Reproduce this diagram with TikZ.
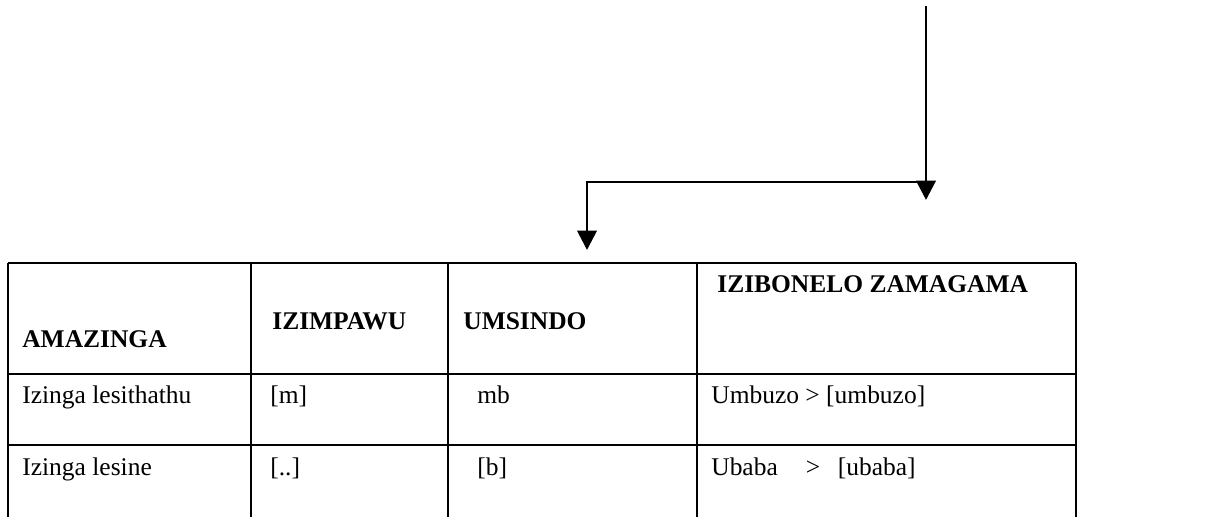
\documentclass[tikz,border=0pt]{standalone}
\usepackage{fontspec}
\setmainfont{Liberation Serif}
\usetikzlibrary{arrows.meta,positioning}
\tikzset{%
	grid/.style  = {line width=0.9pt},
	arrow/.style = {line width=1.6pt,-{Triangle[width=11pt,length=11pt]}},
	head/.style  = {anchor=base west, inner sep=0pt, font=\fontsize{14.5}{17}\selectfont\bfseries},
	entry/.style = {anchor=base west, inner sep=0pt, font=\fontsize{14.5}{17}\selectfont},
}
\begin{document}
\begin{tikzpicture}[x=0.02cm,y=-0.02cm]
	\useasboundingbox (0,0) rectangle (1209,517);
	% table rules
	\draw[grid] (8,263) -- (1076,263);
	\draw[grid] (8,374) -- (1076,374);
	\draw[grid] (8,445) -- (1076,445);
	\foreach \x in {8,251,448,697,1076} \draw[grid] (\x,263) -- (\x,517);
	% headings
	\node[head] (amazinga) at (22,347) {AMAZINGA};
	\node[head] (izimpawu) at (272,329) {IZIMPAWU};
	\node[head] (umsindo) at (463,329) {UMSINDO};
	\node[head] (izibonelo) at (717,292) {IZIBONELO ZAMAGAMA};
	% first row
	\node[entry] (level3) at (22,403) {Izinga lesithathu};
	\node[entry] (sign3) at (270,403) {[m]};
	\node[entry] (sound3) at (477,403) {mb};
	\node[entry] (word3) at (711,403) {Umbuzo > [umbuzo]};
	% second row
	\node[entry] (level4) at (22,475) {Izinga lesine};
	\node[entry] (sign4) at (270,475) {[..]};
	\node[entry] (sound4) at (477,475) {[b]};
	\node[entry] (word4) at (711,475) {Ubaba\hspace{16pt}>\hspace{10pt}[ubaba]};
	% arrows
	\coordinate (src) at (926,6);
	\coordinate (drop) at (926,200);
	\coordinate (fork) at (926,182);
	\coordinate (into) at (587,250);
	\draw[arrow] (src) -- (drop);
	\draw[arrow] (fork) -| (into);
\end{tikzpicture}
\end{document}
